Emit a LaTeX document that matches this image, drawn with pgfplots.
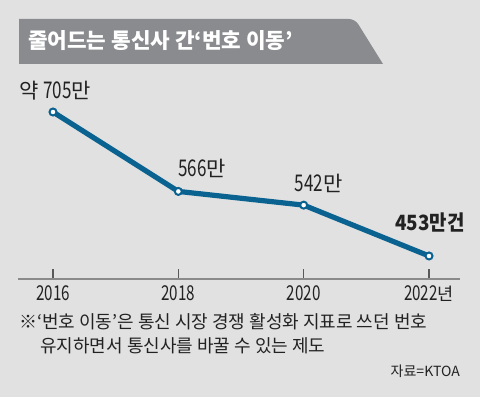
\documentclass[border=0pt]{standalone}
\usepackage{pgfplots}
\pgfplotsset{compat=1.18}
\usepackage{fontspec}
\setmainfont{Noto Sans CJK KR}
\newfontfamily\numf{Noto Sans CJK KR}[FakeStretch=0.74]
\newfontfamily\boldf{Noto Sans CJK KR}[FakeStretch=0.9]
\newcommand\nf[2]{{\numf\fontsize{#1}{#1}\selectfont #2}}
\definecolor{bg}{HTML}{E1E1E1}
\definecolor{banner}{HTML}{898B8E}
\definecolor{lineblue}{HTML}{0A6291}
\definecolor{txt}{HTML}{222222}
\definecolor{axgray}{HTML}{8A8A8A}
\begin{document}
\begin{tikzpicture}[x=1pt,y=1pt]
\fill[bg] (0,0) rectangle (480,397);
\useasboundingbox (0,0) rectangle (480,397);
% title banner
\fill[banner] (19,333) -- (19,378) [rounded corners=6pt]-- (355,378) [sharp corners]-- (383,333) -- cycle;
\node[anchor=west, text=white, font=\fontsize{21.3}{21.3}\selectfont\bfseries, inner sep=0pt] at (28,356) {줄어드는 통신사 간‘번호 이동’};
\begin{axis}[
  at={(18pt,118pt)}, anchor=south west,
  scale only axis, width=442pt, height=179pt,
  xmin=2015.4415, xmax=2022.4945,
  ymin=412.7, ymax=726,
  axis x line=bottom, axis y line=none,
  axis line style={axgray, line width=1.2pt, -},
  xtick={2016,2018,2020,2022},
  xticklabels={\nf{20.5}{2016},\nf{20.5}{2018},\nf{20.5}{2020},{\nf{20.5}{2022}년}},
  tick align=inside,
  major tick length=10pt,
  tick style={color=black!65, line width=1.2pt},
  xticklabel style={font=\fontsize{17.5}{17.5}\selectfont, text=txt, anchor=base, yshift=-22pt},
  ytick=\empty,
  clip=false,
]
\addplot[lineblue, line width=5.2pt, mark=*, mark size=3.5pt,
  mark options={fill=white, draw=lineblue, line width=2pt}]
  coordinates {(2016,705) (2018,566) (2020,542) (2022,453)};
\node[text=txt, font=\fontsize{21}{21}\selectfont, inner sep=0pt] at (axis cs:2016,705) [xshift=2pt, yshift=21pt] {약 \nf{23}{705}만};
\node[text=txt, font=\fontsize{21}{21}\selectfont, inner sep=0pt] at (axis cs:2018,566) [xshift=24pt, yshift=23pt] {\nf{23}{566}만};
\node[text=txt, font=\fontsize{21}{21}\selectfont, inner sep=0pt] at (axis cs:2020,542) [xshift=15pt, yshift=22pt] {\nf{23}{542}만};
\node[text=txt, font=\boldf\fontsize{21}{21}\selectfont\bfseries, inner sep=0pt] at (axis cs:2022,453) [xshift=1pt, yshift=33pt] {453만건};
\end{axis}
\node[anchor=west, text=txt, font=\fontsize{18}{18}\selectfont, inner sep=0pt] at (19,75) {※‘번호 이동’은 통신 시장 경쟁 활성화 지표로 쓰던 번호};
\node[anchor=west, text=txt, font=\fontsize{18}{18}\selectfont, inner sep=0pt] at (40,51) {유지하면서 통신사를 바꿀 수 있는 제도};
\node[anchor=east, text=txt, font=\fontsize{14}{14}\selectfont, inner sep=0pt] at (460,26) {자료=KTOA};
\end{tikzpicture}
\end{document}
